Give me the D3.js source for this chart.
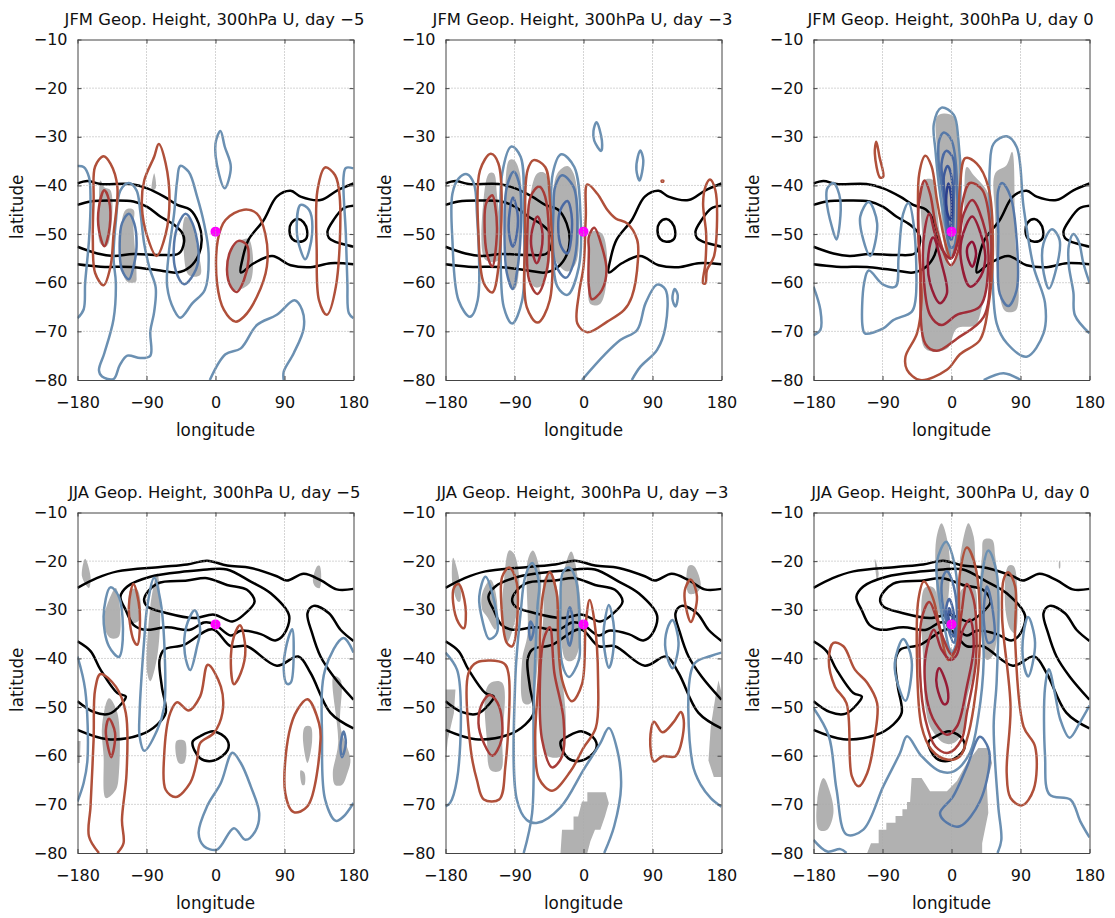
<!DOCTYPE html>
<html>
<head>
<meta charset="utf-8">
<style>
  body { margin: 0; background: #fff; }
  text { font-family: "DejaVu Sans", sans-serif; fill: #111; }
</style>
<script src="https://cdn.jsdelivr.net/npm/d3@7"></script>
</head>
<body>
<script>
// tick labels
const lonTicks = [-180, -90, 0, 90, 180];
const latTicks = [-10, -20, -30, -40, -50, -60, -70, -80];

// reference points
const jfmBase = [0, -49.5];
const jjaBase = [0, -33];

// all contours are [lon, lat]. A line with both ends on the map border stays open.
const jfmBlack = [
  [[-180,-39.6],[-167,-39.1],[-150,-39.7],[-111,-39.7],[-89,-40.6],[-67,-42.3],[-50,-44],[-33,-45],[-22,-47.8],[-18,-51.2],[-22,-54.3],[-33,-56.7],[-50,-57.9],[-72,-57.5],[-107,-56.8],[-150,-56.7],[-180,-56.2]],
  [[-180,-44],[-163,-43.3],[-137,-43.1],[-107,-43.3],[-89,-44.4],[-72,-46.4],[-54,-48.1],[-43,-49.9],[-41,-51.6],[-48,-54],[-72,-54.3],[-107,-54.1],[-133,-54.5],[-154,-54],[-180,-52.6]],
  [[180,-39.6],[159,-41],[137,-43],[111,-42.3],[98,-41.1],[80,-42.3],[63,-47.1],[43,-51.2],[35,-55.3],[33,-57.9],[50,-56],[74,-54.5],[98,-56.4],[124,-56.8],[150,-56],[180,-56.2]],
  [[180,-44.2],[167,-44.7],[154,-47.1],[146,-49.5],[148,-50.8],[155,-51.5],[180,-52.6]],
  [[108,-46.9],[115,-47.6],[119.5,-49.3],[118,-51],[108,-51.6],[100,-51],[96.5,-49.3],[99,-47.7]]
];
const jjaBlack = [
  [[-180,-25.5],[-155,-23.5],[-128,-22.1],[-72,-21.2],[-37,-20.7],[-11,-19.9],[15,-20.9],[46,-21.4],[80,-23.1],[93,-24],[115,-22.6],[137,-23.9],[158,-25.8],[180,-25.7]],
  [[-124,-27.3],[-115,-25.2],[-85,-23.2],[-37,-22.1],[-11,-21.7],[15,-21.7],[46,-24.2],[72,-26.6],[96,-31.2],[89,-35.1],[78,-36.3],[59,-35],[33,-34.3],[20,-35.3],[-2,-32.9],[-15,-32.6],[-33,-34.1],[-63,-33.6],[-93,-34.1],[-107,-33.1],[-117,-30.1]],
  [[-93,-27.7],[-76,-24.6],[-37,-24],[-11,-23.5],[15,-24.9],[41,-25.9],[51,-28.3],[37,-31],[22,-32.4],[-2,-31],[-28,-31.7],[-63,-30.7],[-89,-29.3]],
  [[-180,-36.5],[-163,-38.5],[-150,-42.3],[-128,-47.1],[-117,-47.8],[-122,-49.2],[-139,-51.4],[-159,-51],[-180,-48.8]],
  [[-180,-54.7],[-141,-56.6],[-98,-55.7],[-76,-53.6],[-65,-51.2],[-70,-45.8],[-73,-40.3],[-67,-38.2],[-41,-37.2],[-4,-34],[20,-37.5],[41,-37.5],[80,-41.5],[108,-39.6],[124,-43],[150,-51.2],[180,-54.4]],
  [[180,-48.5],[154,-43.7],[137,-39.6],[126,-34.8],[120,-30.7],[128,-29.2],[148,-30.7],[163,-34.1],[180,-36.4]],
  [[-20,-56],[-2,-55],[15,-56.7],[16,-58.8],[-2,-61],[-20,-60.5],[-30,-57.2]]
];

// JFM day -5
const jfm5Shade = [
  [[-150,-39],[-145,-40.4],[-137,-41],[-137,-50],[-142,-52.5],[-150,-52],[-152,-43]],
  [[-117,-45],[-107,-45],[-107,-48.5],[-103,-58.4],[-104,-59.8],[-115,-59.8],[-122,-57.4],[-124,-50]],
  [[-80,-37.5],[-78,-40.6],[-83,-41]],
  [[-39,-46.4],[-30,-47.8],[-24,-52.6],[-20,-58.4],[-35,-58.4],[-42,-52.6],[-43,-49.2]],
  [[24,-52.3],[43,-51],[45,-60],[24,-61.5],[17,-60.1],[15,-56],[20,-53.6]]
];
const jfm5Blue = [[
  [[-180,-36],[-172,-36.2],[-165,-38.3],[-163,-43],[-165,-51.2],[-170,-60],[-172,-65.5],[-180,-67.3]],
  [[180,-36.5],[170,-36.4],[167,-38.3],[170,-50],[172,-60],[174,-66.3],[180,-67.3]],
  [[-113,-39.5],[-103,-41],[-98,-45.5],[-93,-52],[-86,-57],[-78,-61],[-80,-66],[-85,-70],[-85,-75],[-98,-75.5],[-115,-75],[-125,-77],[-133,-79.8],[-148,-79.3],[-152,-78],[-145,-74.5],[-133,-67.5],[-130,-60],[-133,-55],[-130,-47.5],[-124,-41]],
  [[-46,-36],[-35,-37.2],[-24,-42.3],[-15,-47.8],[-9,-54],[-14,-61.5],[-30,-64.2],[-46,-67.2],[-54,-65.6],[-63,-60.8],[-61,-54],[-54,-45.8],[-50,-39]],
  [[6.5,-28.8],[12,-32],[20,-36.2],[12,-40.6],[4.3,-37.5],[0,-31.4]],
  [[-7.4,-80],[13,-74.7],[33,-73.5],[54,-68.7],[80,-66.6],[103,-63.6],[113,-65.6],[115,-69.4],[102,-74.5],[89,-78.3],[89,-80]],
  [[111,-44],[122,-45],[126,-50],[117,-55.2],[111,-53.3],[106,-49.2]]
],[
  [[-113,-45.8],[-106,-47.8],[-103,-52.6],[-107,-56.7],[-113,-59.3],[-122,-57.4],[-125,-52],[-122,-47.8]],
  [[-39,-45.8],[-30,-47.8],[-22,-54.7],[-28,-58.1],[-41,-60.3],[-52,-57.4],[-54,-51.9],[-48,-47.8]]
]];
const jfm5Red = [[
  [[-146,-34],[-137,-35.5],[-128,-40.3],[-133,-50],[-137,-56.7],[-146,-60.5],[-157,-58],[-160,-51.2],[-159,-43],[-157,-36.1]],
  [[-74,-31.5],[-65,-35.5],[-60,-43],[-65,-50],[-77,-54.5],[-89,-50.5],[-96,-44.4],[-93,-39],[-80,-34.1]],
  [[37,-45],[54,-45.8],[65,-50],[67,-56.7],[54,-62.9],[37,-67],[26,-68],[11,-65.6],[2,-60.1],[3,-51.2],[13,-47.1]],
  [[143,-36.3],[156,-37.9],[162,-42.3],[157,-60.8],[145,-66.6],[135,-63.6],[132,-53.3],[133,-41]]
],[
  [[-145,-41],[-139,-43],[-138,-48.5],[-145,-52.5],[-152,-49.2],[-152,-44.4]],
  [[30,-51.4],[41,-52.3],[43,-55.3],[37,-59.5],[28,-61.9],[20,-60.8],[15,-57.4],[20,-53.3]]
]];

// JFM day -3
const jfm3Shade = [
  [[-130,-42.3],[-123,-37.5],[-117,-37.5],[-113,-41.7],[-110,-55.3],[-128,-55.3]],
  [[-97,-34.8],[-91,-34.7],[-83,-37.5],[-83,-53.3],[-89,-61.2],[-95,-61.2],[-102,-50],[-102,-40.3]],
  [[-69,-41.7],[-60,-37.5],[-50,-37.5],[-45,-44.4],[-45,-56.7],[-56,-60.8],[-65,-60.8],[-74,-53.3]],
  [[-34,-37.5],[-21,-36],[-13,-37.5],[-6,-46.4],[-10,-56],[-21,-57.7],[-37,-55.3],[-41,-46.4]],
  [[11,-49.5],[24,-49.9],[31,-57.4],[22,-64.3],[9,-64.4],[8,-56.7]]
];
const jfm3Blue = [[
  [[-152,-37.7],[-143,-39.6],[-139,-45.8],[-138,-63.6],[-148,-67],[-163,-63.6],[-171,-51.2],[-171,-41.7],[-163,-38.6]],
  [[-94,-32],[-82,-34.1],[-78,-46.4],[-80,-63.6],[-93,-68.4],[-104,-65],[-108,-50],[-106,-37.5]],
  [[-29,-33.6],[-12,-36.2],[-4,-45.8],[-6,-56.7],[-21,-62.5],[-34,-60.8],[-41,-50],[-40,-37.5]],
  [[17,-27],[24,-30.8],[23,-32.9],[14,-30.8],[13,-28.8]],
  [[74,-32.8],[78,-34.8],[73,-39],[69,-36.8],[71,-34]],
  [[119,-61.3],[123,-62.6],[120,-64.9],[116,-63.3]],
  [[-2,-80],[27,-74.9],[48,-71.8],[70,-69.7],[81,-64.2],[96,-60.4],[107,-61.4],[107,-69],[96,-73.8],[74,-77.3],[63,-80]]
],[
  [[-91,-37.2],[-83,-40.3],[-82,-50],[-87,-58],[-92,-61.3],[-100,-58],[-103,-48.5],[-100,-40.3]],
  [[-28,-37.9],[-13,-40.3],[-8,-48.5],[-13,-56],[-23,-59],[-37,-56],[-39,-44.4],[-37,-40.3]]
],[
  [[-92,-42.5],[-86,-45.8],[-87,-50],[-92,-52.6],[-97,-50],[-96,-45]],
  [[-21,-43.2],[-15,-47.1],[-21,-54],[-29,-52.6],[-33,-48.5],[-30,-45]]
]];
const jfm3Red = [[
  [[-121,-33.5],[-111,-35.5],[-110,-55.3],[-119,-62],[-130,-60.1],[-137,-50],[-135,-36.9]],
  [[-65,-34.8],[-50,-36.2],[-44,-43],[-44,-63.6],[-60,-68.2],[-74,-65],[-76,-50],[-73,-36.9]],
  [[5,-39.8],[18,-41.7],[31,-45],[42,-46.8],[57,-47.8],[70,-51.2],[71,-55.3],[63,-62.9],[53,-65.6],[31,-68],[5,-70.2],[-8,-68.4],[-6,-62.3],[0,-56.7],[3,-46.4]],
  [[165,-38.8],[172,-41],[174,-48.5],[170,-54.7],[161,-57.4],[159,-60.1],[156,-60.1],[159,-56],[160,-50],[156,-43.7],[159,-40.3]],
  [[102,-39],[104,-39],[104,-39.2],[102,-39.2]]
],[
  [[-119,-42],[-115,-44.4],[-113,-50],[-119,-56.7],[-126,-54],[-129,-48.5],[-127,-43.7]],
  [[-58,-40.2],[-50,-42.3],[-47,-56.7],[-60,-62.3],[-71,-59.4],[-73,-48.5],[-69,-42.3]],
  [[14,-48.7],[24,-52.6],[30,-57.4],[24,-61.5],[11,-63.4],[7,-60.8],[7,-53.3],[7,-50.5]]
],[
  [[-60,-46.4],[-54,-49.2],[-55,-53.3],[-61,-56],[-68,-52.6],[-67,-49.2]]
]];

// JFM day 0
const jfm0Shade = [
  [[-36,-39],[-23,-39],[-19,-44.4],[-15,-50],[-2,-56.7],[9,-54],[16,-46.4],[20,-36.2],[29,-37.9],[48,-41.7],[51,-53.3],[48,-60.1],[40,-64.9],[31,-68.7],[7,-69.4],[-6,-73.6],[-34,-73.6],[-36,-56.7]],
  [[-19,-25.9],[-10,-25.2],[3,-25.9],[9,-32],[11,-40.3],[3,-54.7],[-4,-55.3],[-15,-43],[-19,-32.7]],
  [[57,-37.5],[72,-35.8],[79,-33.1],[83,-50],[87,-64.3],[83,-65.8],[70,-65.8],[59,-56.7],[57,-46.4]]
];
const jfm0Blue = [[
  [[-13,-24],[3,-25.5],[9,-30.7],[12,-40.3],[7,-50],[0,-54.7],[-6,-50],[-15,-41.7],[-21,-32.7],[-23,-27.3]],
  [[-154,-39.5],[-145,-43],[-150,-51.1],[-156,-48.5],[-163,-43],[-162,-40.6]],
  [[-108,-43.4],[-97,-47.8],[-106,-54.5],[-115,-51.2],[-119,-46.4]],
  [[-56,-43.6],[-49,-48.5],[-47,-63.6],[-52,-66],[-76,-67.7],[-89,-69.4],[-113,-70.4],[-116,-69],[-114,-60.1],[-108,-57.5],[-89,-60.4],[-73,-60.8],[-69,-54.7],[-63,-45.8]],
  [[-180,-60.8],[-171,-65.6],[-171,-69.7],[-180,-70.8]],
  [[72,-29.9],[85,-32.1],[94,-44.4],[107,-56.7],[122,-64.2],[120,-70.4],[98,-75.2],[72,-72.4],[59,-68.4],[53,-56.7],[50,-36.2],[55,-31.4]],
  [[131,-49],[141,-51.2],[135,-58.1],[127,-61.2],[119,-56.7],[120,-51.9]],
  [[180,-60],[172,-56],[166,-51.6],[159,-50],[153,-52.4],[153,-56.4],[159,-62],[161,-66.7],[180,-70.4]],
  [[42,-80],[68,-78.6],[90,-80]]
],[
  [[-10,-29.1],[0,-30.7],[7,-39],[3,-52.6],[-2,-52.6],[-10,-43],[-17,-34.8],[-16,-30.7]],
  [[66,-39.5],[77,-42.3],[85,-51.2],[85,-61.5],[74,-64.8],[63,-62.3],[61,-50],[61,-41]]
],[
  [[-7,-32.9],[2,-34.4],[3,-43],[0,-51.2],[-4,-50],[-10,-40.3],[-13,-35.5]]
],[
  [[-5,-36],[0,-38.2],[1,-46.4],[-2,-49.2],[-7,-44.4],[-10,-38.2]]
],[
  [[-4,-39.6],[0,-43],[-1,-47.1],[-4,-46.4],[-7,-43]]
]];
const jfm0Red = [[
  [[-34,-33.9],[-26,-36.1],[-19,-43],[-8,-51.9],[-1,-55],[7,-51.9],[11,-40.3],[18,-34.4],[33,-35.5],[48,-40.3],[54,-53.3],[48,-64.9],[37,-71.8],[11,-74.7],[-6,-77.9],[-41,-80],[-58,-77.9],[-60,-75.2],[-45,-70.4],[-39,-63.6],[-43,-50],[-42,-37.5]],
  [[-98,-31],[-94,-34.1],[-89,-38.2],[-93,-38.4],[-100,-33.4]]
],[
  [[-35,-39],[-28,-41.7],[-19,-49.2],[-1,-56.4],[9,-53.3],[14,-43.7],[24,-39.5],[40,-40.9],[51,-49.2],[51,-56.7],[42,-67],[7,-71.5],[-19,-74],[-34,-72.6],[-41,-56.7],[-43,-44.4]]
],[
  [[-29,-45.8],[-19,-51.2],[-1,-55],[9,-51.2],[16,-45.8],[27,-43],[44,-49.2],[48,-56.7],[37,-64.9],[7,-66.6],[-13,-68.7],[-28,-66.6],[-37,-56.7],[-35,-49.2]]
],[
  [[-24,-50.7],[-13,-56],[-6,-62.2],[-15,-64.2],[-28,-60.1],[-30,-54]],
  [[27,-46.4],[38,-49.9],[44,-55.3],[35,-59.5],[24,-60.8],[13,-56],[13,-51.2]]
],[
  [[27,-51.6],[32,-54],[27,-56.7],[21,-54.7],[21,-52.6]]
]];

// JJA day -5
const jja5Shade = [
  [[-170,-19.5],[-163,-23.2],[-165,-25.5],[-174,-23.2]],
  [[-139,-28],[-130,-25.5],[-126,-35.5],[-137,-35.8],[-146,-32.7]],
  [[-111,-25.9],[-102,-25.9],[-99,-32],[-109,-32.7]],
  [[-85,-29.3],[-76,-22.5],[-72,-29.3],[-76,-39.6],[-85,-44.7],[-89,-43]],
  [[-139,-48.2],[-128,-51.2],[-126,-63.6],[-130,-67],[-143,-68.7],[-146,-60.1],[-148,-54]],
  [[-180,-57],[-176,-57],[-177,-61.5],[-180,-61.5]],
  [[-51,-57],[-40,-57],[-41,-61.5],[-48,-61.5]],
  [[117,-54],[124,-54],[126,-57],[120,-61.5],[114,-56]],
  [[111,-63],[116,-63.5],[116,-66],[113,-66]],
  [[154,-43.7],[163,-44.4],[163,-54],[176,-60.8],[172,-63.6],[165,-66],[156,-66],[153,-63.6],[160,-57.4]],
  [[133,-21],[136,-21],[136,-25.5],[130,-25.2],[127,-24]]
];
const jja5Blue = [[
  [[-137,-25.4],[-126,-27.3],[-121,-36.2],[-126,-39.7],[-139,-37.5],[-146,-31.4]],
  [[-80,-23.4],[-72,-28],[-67,-36.2],[-67,-50],[-76,-54.7],[-93,-59],[-99,-56],[-99,-51.2],[-93,-36.2],[-89,-29.3]],
  [[-27,-30.1],[-20,-34.1],[-24,-37.5],[-33,-42.4],[-40,-39],[-38,-33.4]],
  [[-180,-39.6],[-170,-46.4],[-167,-60.8],[-172,-65.6],[-180,-69.4]],
  [[100,-34],[102,-37.5],[98,-45],[93,-45.2],[89,-42.3],[93,-37]],
  [[180,-38.8],[167,-35.8],[143,-42.3],[139,-56.7],[143,-69],[157,-73.4],[167,-72.5],[180,-69.7]],
  [[22,-59.4],[33,-61.5],[46,-66.3],[57,-71.8],[52,-75.5],[39,-77.3],[24,-74.9],[2,-79.3],[-15,-78.6],[-22,-75.9],[-11,-70.4],[7,-65.6]]
],[
  [[167,-55],[170,-57.4],[165,-60.3],[163,-58]]
]];
const jja5Red = [[
  [[-107,-24.7],[-99,-30],[-102,-37.2],[-107,-36.2],[-113,-29.3]],
  [[32,-33.2],[39,-38.2],[33,-43],[24,-45.3],[20,-41],[24,-35.5]],
  [[-128,-80],[-120,-78],[-122,-73.2],[-116,-63.6],[-117,-51.2],[-130,-45.8],[-150,-43.2],[-157,-46.4],[-159,-56.7],[-163,-70.4],[-165,-76.6],[-152,-80]],
  [[-10,-41.3],[7,-45.8],[9,-51.2],[-2,-55.3],[-20,-57.4],[-24,-60.8],[-33,-65.6],[-52,-68.5],[-65,-67],[-67,-60.1],[-59,-51.2],[-50,-49],[-35,-50.7],[-20,-47.8]],
  [[120,-48.4],[135,-53.3],[137,-56.7],[120,-70.4],[102,-71.6],[91,-67.7],[96,-55.3],[107,-50.5]]
],[
  [[-139,-52.4],[-131,-55.3],[-136,-60.3],[-142,-56.7],[-143,-54.7]]
]];

// JJA day -3
const jja3Shade = [
  [[-170,-19.3],[-161,-24.5],[-161,-28.3],[-164,-28.3],[-171,-24.5]],
  [[-132,-26.6],[-121,-23.8],[-113,-28],[-115,-34.1],[-126,-31.4],[-132,-30]],
  [[-104,-24.5],[-97,-17.8],[-91,-18.4],[-84,-23.2],[-87,-30.7],[-100,-36.8],[-106,-29.3]],
  [[-73,-20],[-66,-17.8],[-56,-22.5],[-56,-28],[-69,-49.2],[-78,-49.2],[-80,-40.3],[-73,-35]],
  [[-52,-24],[-44,-22.3],[-34,-26],[-28,-43],[-23,-53.3],[-28,-60],[-47,-60],[-56,-53.3],[-56,-40.3],[-52,-30]],
  [[-26,-22.5],[-16,-18],[-6,-25.2],[-4,-36.2],[-13,-40.3],[-23,-40.3],[-30,-29.3]],
  [[-180,-46.4],[-167,-46.4],[-169,-51.2],[-177,-56.7],[-180,-61.5]],
  [[-128,-47],[-121,-45],[-106,-45],[-106,-56.7],[-108,-63],[-121,-63],[-126,-56.7]],
  [[137,-21],[144,-21],[153,-25.2],[146,-26.6],[137,-26.6]],
  [[172,-48],[176,-44.5],[180,-47],[180,-64.4],[170,-64.4],[163,-61],[166,-54]],
  [[-30,-80],[-28,-75.2],[-13,-75.2],[-13,-72.5],[-7,-72.5],[-2,-69.4],[5,-69.4],[5,-67.5],[16,-67.5],[29,-67.5],[33,-69.7],[28,-72.5],[22,-75.2],[15,-75.2],[9,-77.6],[5,-80]]
];
const jja3Blue = [[
  [[-128,-23.2],[-119,-26.6],[-113,-34.8],[-123,-36],[-132,-32.1],[-136,-27.3]],
  [[-78,-80],[-67,-71.8],[-65,-49.9],[-60,-29.3],[-58,-24.5],[-67,-20.4],[-76,-23.2],[-82,-30.7],[-89,-44.4],[-87,-69],[-74,-73.2],[-60,-73.8],[-30,-70.6],[0,-62.9],[22,-57.4],[33,-54.3],[44,-58.8],[49,-66.3],[40,-74.5],[27,-80]],
  [[-19,-21.3],[-10,-23.8],[-5,-36.2],[-6,-40.3],[-19,-43.8],[-28,-41],[-30,-29.3],[-27,-22.4]],
  [[33,-29],[40,-34.1],[36,-41],[33,-41.9],[26,-36.2],[28,-32.1]],
  [[116,-32.1],[124,-36.8],[116,-42],[107,-38.2],[109,-34.1]],
  [[-180,-38.8],[-165,-42.3],[-160,-49.9],[-165,-64.9],[-174,-69.7],[-180,-70.4]],
  [[180,-38.8],[166,-39.5],[144,-41.2],[142,-61.5],[153,-66],[166,-68.7],[180,-70.5]]
],[
  [[-69,-32.4],[-65,-34.1],[-69,-36.2],[-71,-34.1]],
  [[-18,-29.5],[-14,-32],[-15,-35.5],[-18,-37.4],[-22,-34.8],[-21,-31.4]]
]];
const jja3Red = [[
  [[-163,-24.7],[-154,-29.3],[-156,-33.8],[-163,-32.7],[-170,-28.6],[-169,-25.5]],
  [[-97,-21.3],[-87,-24.5],[-93,-37.5],[-100,-36.8],[-107,-29.3],[-106,-23.2]],
  [[-44,-22.3],[-35,-26.6],[-33,-36.2],[-28,-44.4],[-15,-48.8],[-2,-45.3],[3,-32.7],[8,-28],[14,-32.1],[19,-44.4],[16,-54.3],[0,-58.4],[-17,-63.2],[-41,-67.2],[-58,-64.7],[-63,-56.7],[-58,-43],[-53,-26.9]],
  [[-139,-40.8],[-104,-41],[-98,-43],[-102,-62.3],[-110,-69],[-130,-69],[-139,-65],[-147,-58.8],[-150,-43]],
  [[92,-53],[103,-55.2],[118,-53],[127,-51],[131,-53.3],[120,-60.1],[103,-60.1],[92,-61.2],[87,-56.7]],
  [[140,-23.8],[148,-27.3],[140,-32.5],[132,-28],[133,-25.5]]
],[
  [[-44,-33.6],[-38,-43],[-26,-52.6],[-28,-60.1],[-41,-62.4],[-54,-56.7],[-57,-46.4],[-52,-36.2]],
  [[-122,-47.5],[-110,-49.9],[-107,-56.7],[-119,-60],[-130,-57.4],[-137,-53.3],[-132,-49.2]]
]];

// JJA day 0
const jja0Shade = [
  [[-36,-43],[-35,-25.5],[-23,-25.5],[-15,-32.7],[-8,-36.2],[3,-38.2],[11,-34.1],[13,-25.9],[29,-25.2],[32,-36.2],[29,-43],[20,-48.5],[16,-54.7],[3,-57.4],[-10,-57.4],[-28,-54],[-34,-49.9]],
  [[-20,-25],[-20,-15.6],[-13,-12.2],[-5,-16],[-2,-22.5],[-10,-31.4],[-17,-30.7]],
  [[11,-19.7],[22,-12.2],[29,-15],[31,-19.7],[33,-25.2],[13,-25.2],[11,-22.5]],
  [[40,-18.4],[42,-15.6],[53,-15.6],[57,-19],[61,-25.9],[59,-36.2],[53,-39.6],[46,-40.3],[40,-36.2],[37,-25.9]],
  [[74,-21],[81,-21],[86,-27.3],[83,-34.8],[77,-34.1],[70,-29.3]],
  [[-100,-19.5],[-95,-22.5],[-97,-24]],
  [[140.5,-20],[141.5,-20],[141.5,-21.5],[140.5,-21.5]],
  [[-167,-64.6],[-158,-67.7],[-154,-71.8],[-162,-75.2],[-173,-75.2],[-175,-69]],
  [[-52,-64.6],[-39,-64.6],[-28,-67.3],[-6,-67.3],[7,-65.2],[20,-61.5],[35,-58.4],[48,-58.4],[53,-61.5],[46,-65.6],[48,-71.8],[40,-78],[40,-80],[-110,-80],[-105,-78],[-95,-78],[-95,-75.2],[-85,-75.2],[-85,-73.8],[-73,-73.8],[-73,-72.4],[-64,-72.4],[-64,-71],[-58,-71],[-58,-69.5],[-54,-69.5]]
];
const jja0Blue = [[
  [[-7,-16],[2,-19.3],[9,-28.2],[7,-36.5],[0,-38.9],[-8,-34.5],[-17,-26.3],[-19,-20.1]],
  [[-180,-50.2],[-160,-56],[-150,-66.9],[-137,-76.2],[-115,-75.2],[-89,-66.3],[-67,-59.4],[-58,-56],[-39,-60.1],[-15,-63.2],[3,-63.2],[24,-59.4],[35,-51.9],[42,-40.3],[38,-25.9],[48,-17.8],[59,-22.5],[59,-44.4],[55,-54],[61,-70.4],[65,-77.3],[60,-80]],
  [[-63,-36],[-52,-40.3],[-60,-48.7],[-69,-45.8],[-74,-41]],
  [[100,-31.5],[109,-36.8],[100,-43.7],[94,-41],[94,-34.8]],
  [[180,-49.7],[167,-53.3],[154,-56.3],[142,-52.6],[135,-47.3],[127,-42.2],[122,-46],[122,-60],[128,-68],[155,-69],[168,-73.5],[180,-76.8]],
  [[-180,-77.3],[-162,-79.7],[-145,-79.2],[-137,-80]]
],[
  [[-6,-22.1],[3,-25.2],[7,-32.7],[3,-36.8],[-4,-34.1],[-13,-26.6],[-11,-23.2]],
  [[46,-25.2],[53,-29.3],[55,-36.2],[48,-36.8],[42,-32],[43,-28]],
  [[37,-56.1],[46,-57.7],[50,-60.4],[37,-69.4],[11,-74.5],[-6,-73.8],[-15,-71.8],[2,-68.4],[20,-62.3]]
],[
  [[-3,-27.8],[3,-30.7],[3,-35.5],[-2,-34.1],[-7,-30]]
],[
  [[-3,-29.7],[1,-32],[-1,-33.4],[-4,-31.4]]
]];
const jja0Red = [[
  [[-36,-24.2],[-24,-27.7],[-15,-34.1],[-4,-40.3],[7,-37.5],[11,-22.5],[20,-17.2],[31,-21],[37,-36.2],[29,-49.9],[20,-56.7],[11,-60.1],[-6,-60.8],[-26,-58.8],[-39,-54],[-45,-40.3],[-43,-27.7]],
  [[-154,-36.8],[-141,-37.5],[-126,-42.3],[-110,-45],[-97,-49.2],[-100,-56],[-110,-63.6],[-121,-66.3],[-130,-64.2],[-137,-49.2],[-152,-45.8],[-160,-40.3]],
  [[74,-22.3],[83,-25.2],[83,-36.2],[94,-54],[109,-58.1],[107,-67],[92,-70.2],[77,-68.7],[72,-63.6],[77,-49.9],[66,-31.4],[68,-23.8]]
],[
  [[-29,-28.4],[-19,-32],[-10,-36.2],[0,-39.2],[7,-37.5],[13,-30.7],[20,-24.7],[29,-28],[32,-40.3],[20,-51.2],[13,-56.7],[-4,-59.4],[-21,-58.1],[-34,-52.6],[-41,-43],[-39,-32]]
],[
  [[-23,-34.1],[-13,-38.2],[-1,-40.3],[7,-39.2],[15,-34.1],[24,-32],[29,-37.5],[20,-45.8],[7,-54],[-6,-55.7],[-21,-53.3],[-32,-48.5],[-34,-39.6]]
],[
  [[-16,-42],[-5,-46.4],[-6,-49.2],[-10,-49.4],[-19,-45.8],[-19,-43]]
]];

// colours by contour level, weak to strong
const blueLevels = ['#6b90b2', '#5678a8', '#4a69a3', '#3d5a9b', '#2b3f8c'];
const redLevels = ['#b0503a', '#a83c38', '#a02c38', '#961c36', '#8e1034'];

const panels = [
  { title: 'JFM Geop. Height, 300hPa U, day \u22125', col: 0, row: 0, black: jfmBlack, shade: jfm5Shade, blue: jfm5Blue, red: jfm5Red, base: jfmBase },
  { title: 'JFM Geop. Height, 300hPa U, day \u22123', col: 1, row: 0, black: jfmBlack, shade: jfm3Shade, blue: jfm3Blue, red: jfm3Red, base: jfmBase },
  { title: 'JFM Geop. Height, 300hPa U, day 0', col: 2, row: 0, black: jfmBlack, shade: jfm0Shade, blue: jfm0Blue, red: jfm0Red, base: jfmBase },
  { title: 'JJA Geop. Height, 300hPa U, day \u22125', col: 0, row: 1, black: jjaBlack, shade: jja5Shade, blue: jja5Blue, red: jja5Red, base: jjaBase },
  { title: 'JJA Geop. Height, 300hPa U, day \u22123', col: 1, row: 1, black: jjaBlack, shade: jja3Shade, blue: jja3Blue, red: jja3Red, base: jjaBase },
  { title: 'JJA Geop. Height, 300hPa U, day 0', col: 2, row: 1, black: jjaBlack, shade: jja0Shade, blue: jja0Blue, red: jja0Red, base: jjaBase }
];

const colX = [77.5, 445.5, 813.5];
const rowY = [39.5, 512.5];
const plotW = 276;
const plotH = 340.5;

const x = d3.scaleLinear().domain([-180, 180]).range([0, plotW]);
const y = d3.scaleLinear().domain([-10, -80]).range([0, plotH]);
const minus = d => String(d).replace('-', '\u2212');

const onBorder = p => Math.abs(p[0]) === 180 || p[1] === -80;
const isOpen = pts => onBorder(pts[0]) && onBorder(pts[pts.length - 1]);

const smoothOpen = d3.line().x(d => x(d[0])).y(d => y(d[1])).curve(d3.curveCatmullRom.alpha(0.5));
const smoothClosed = d3.line().x(d => x(d[0])).y(d => y(d[1])).curve(d3.curveCatmullRomClosed.alpha(0.5));
const polygon = d3.line().x(d => x(d[0])).y(d => y(d[1])).curve(d3.curveLinearClosed);

const svg = d3.select('body').append('svg')
  .attr('width', 1115)
  .attr('height', 918);

panels.forEach((p, i) => {
  const g = svg.append('g').attr('transform', `translate(${colX[p.col]},${rowY[p.row]})`);
  const clipId = 'clip' + i;

  g.append('clipPath').attr('id', clipId)
    .append('rect').attr('width', plotW).attr('height', plotH);

  const plot = g.append('g').attr('clip-path', `url(#${clipId})`);

  // shading goes under everything, the stepped patches at the map border stay angular
  plot.selectAll('path.shade').data(p.shade).join('path')
    .attr('class', 'shade')
    .attr('d', d => (d.some(onBorder) ? polygon(d) : smoothClosed(d)))
    .attr('fill', '#b1b1b1');

  // dotted grid
  const grid = g.append('g');
  grid.selectAll('line.gx').data(lonTicks.slice(1, -1)).join('line')
    .attr('class', 'gx')
    .attr('x1', d => x(d)).attr('x2', d => x(d))
    .attr('y1', 0).attr('y2', plotH);
  grid.selectAll('line.gy').data(latTicks.slice(1, -1)).join('line')
    .attr('class', 'gy')
    .attr('x1', 0).attr('x2', plotW)
    .attr('y1', d => y(d)).attr('y2', d => y(d));
  grid.selectAll('line')
    .attr('stroke', '#aaa')
    .attr('stroke-width', 1)
    .attr('stroke-dasharray', '1,2');

  // contours, weakest level first
  const drawLines = (lines, colour) => {
    plot.append('g').selectAll('path').data(lines).join('path')
      .attr('d', d => (isOpen(d) ? smoothOpen(d) : smoothClosed(d)))
      .attr('fill', 'none')
      .attr('stroke', colour)
      .attr('stroke-width', 2.5)
      .attr('stroke-linejoin', 'round');
  };
  drawLines(p.black, '#000');
  p.blue.forEach((lines, level) => drawLines(lines, blueLevels[level]));
  p.red.forEach((lines, level) => drawLines(lines, redLevels[level]));

  plot.append('circle')
    .attr('cx', x(p.base[0]))
    .attr('cy', y(p.base[1]))
    .attr('r', 5)
    .attr('fill', '#ff00ff');

  // axes, ticks point inward on all four sides
  const bottom = g.append('g').attr('transform', `translate(0,${plotH})`)
    .call(d3.axisBottom(x).tickValues(lonTicks).tickFormat(minus).tickSizeInner(-4).tickSizeOuter(0).tickPadding(17));
  const left = g.append('g')
    .call(d3.axisLeft(y).tickValues(latTicks).tickFormat(minus).tickSizeInner(-4).tickSizeOuter(0).tickPadding(10));
  const top = g.append('g')
    .call(d3.axisTop(x).tickValues(lonTicks).tickFormat('').tickSizeInner(-4).tickSizeOuter(0));
  const right = g.append('g').attr('transform', `translate(${plotW},0)`)
    .call(d3.axisRight(y).tickValues(latTicks).tickFormat('').tickSizeInner(-4).tickSizeOuter(0));
  [bottom, left, top, right].forEach(a => {
    a.selectAll('text').style('font-size', '16px').style('font-family', '"DejaVu Sans", sans-serif');
    a.selectAll('line, path').attr('stroke', '#444');
  });

  g.append('text')
    .attr('x', plotW / 2 - 1)
    .attr('y', -15)
    .attr('text-anchor', 'middle')
    .style('font-size', '16.4px')
    .text(p.title);

  g.append('text')
    .attr('x', plotW / 2)
    .attr('y', plotH + 56)
    .attr('text-anchor', 'middle')
    .style('font-size', '16.8px')
    .text('longitude');

  g.append('text')
    .attr('transform', `translate(-55,${plotH / 2 - 3}) rotate(-90)`)
    .attr('text-anchor', 'middle')
    .style('font-size', '16.8px')
    .text('latitude');
});
</script>
</body>
</html>
